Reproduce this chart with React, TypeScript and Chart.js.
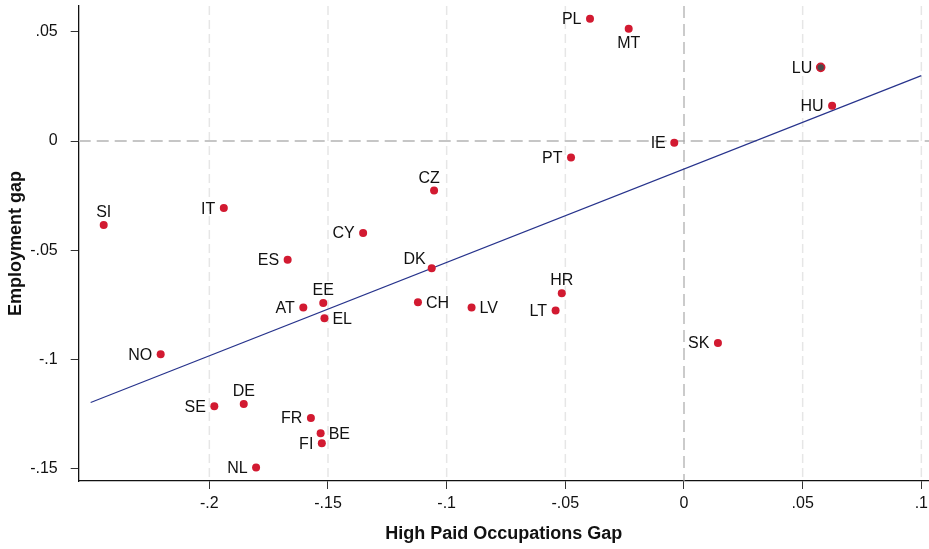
import { useEffect, useRef } from 'react';
import { Chart, registerables } from 'chart.js';

Chart.register(...registerables);

const countries = ['SI', 'IT', 'CZ', 'CY', 'ES', 'DK', 'EE', 'AT', 'EL', 'CH', 'LV', 'HR', 'LT', 'SK', 'PL', 'MT', 'LU', 'HU', 'IE', 'PT', 'NO', 'SE', 'DE', 'FR', 'NL', 'BE', 'FI'];
const highPaidGap = [-0.2445, -0.1939, -0.1053, -0.1352, -0.167, -0.1063, -0.152, -0.1604, -0.1515, -0.1121, -0.0895, -0.0515, -0.0541, 0.0143, -0.0396, -0.0233, 0.0576, 0.0624, -0.0041, -0.0476, -0.2205, -0.1979, -0.1855, -0.1572, -0.1803, -0.1531, -0.1526];
const employmentGap = [-0.0384, -0.0307, -0.0227, -0.0421, -0.0543, -0.0582, -0.0741, -0.0762, -0.0811, -0.0738, -0.0762, -0.0697, -0.0775, -0.0924, 0.0559, 0.0514, 0.0337, 0.0161, -0.0008, -0.0075, -0.0976, -0.1214, -0.1203, -0.1267, -0.1494, -0.1337, -0.1383];

const fitX = [-0.25, 0.1];
const fitY = [-0.1196, 0.0299];

const xTicks = [-0.2, -0.15, -0.1, -0.05, 0, 0.05, 0.1];
const yTicks = [-0.15, -0.1, -0.05, 0, 0.05];

const labelSide: Record<string, string> = {
  SI: 'top', CZ: 'topl', EE: 'top', HR: 'top', DE: 'top',
  MT: 'bottom', DK: 'topleft',
  EL: 'right', CH: 'right', LV: 'right', BE: 'right',
};

const FONT = '"Liberation Sans", Arial, Helvetica, sans-serif';
const RED = '#d21a31';

const fmt = (v: number) => {
  if (Math.abs(v) < 1e-9) return '0';
  return String(+v.toFixed(3)).replace(/^(-?)0\./, '$1.');
};

const zeroPad = (s: any) => {
  s.paddingTop = 0;
  s.paddingBottom = 0;
  s.paddingLeft = 0;
  s.paddingRight = 0;
};

const gridPlugin = {
  id: 'refGrid',
  beforeDatasetsDraw(chart: any) {
    const { ctx, chartArea, scales } = chart;
    const { left, right, top, bottom } = chartArea;
    const x = scales.x;
    const y = scales.y;
    ctx.save();
    ctx.beginPath();
    ctx.rect(left, top, right - left, bottom - top);
    ctx.clip();
    xTicks.forEach((v) => {
      if (v === 0) return;
      const px = x.getPixelForValue(v);
      ctx.strokeStyle = '#e6e6e6';
      ctx.lineWidth = 1.5;
      ctx.setLineDash([9, 5]);
      ctx.beginPath();
      ctx.moveTo(px, top);
      ctx.lineTo(px, bottom);
      ctx.stroke();
    });
    const py = y.getPixelForValue(0);
    ctx.strokeStyle = '#c6c6c6';
    ctx.lineWidth = 1.8;
    ctx.setLineDash([12, 6]);
    ctx.beginPath();
    ctx.moveTo(left, py);
    ctx.lineTo(right, py);
    ctx.stroke();
    const px0 = x.getPixelForValue(0);
    ctx.strokeStyle = '#a8a8a8';
    ctx.lineWidth = 1.2;
    ctx.setLineDash([12, 6]);
    ctx.beginPath();
    ctx.moveTo(px0, top);
    ctx.lineTo(px0, bottom);
    ctx.stroke();
    ctx.restore();
  },
};

const labelPlugin = {
  id: 'pointLabels',
  afterDatasetsDraw(chart: any) {
    const { ctx } = chart;
    const meta = chart.getDatasetMeta(1);
    ctx.save();
    ctx.font = `16px ${FONT}`;
    ctx.fillStyle = '#111';
    ctx.textBaseline = 'middle';
    meta.data.forEach((el: any, i: number) => {
      const name = countries[i];
      const side = labelSide[name] || 'left';
      const px = el.x;
      const py = el.y;
      if (side === 'left') {
        ctx.textAlign = 'right';
        ctx.fillText(name, px - 8.5, py + 1);
      } else if (side === 'right') {
        ctx.textAlign = 'left';
        ctx.fillText(name, px + 8, py + 1);
      } else if (side === 'top') {
        ctx.textAlign = 'center';
        ctx.fillText(name, px, py - 12.5);
      } else if (side === 'topl') {
        ctx.textAlign = 'center';
        ctx.fillText(name, px - 5, py - 12.5);
      } else if (side === 'bottom') {
        ctx.textAlign = 'center';
        ctx.fillText(name, px, py + 14.5);
      } else if (side === 'topleft') {
        ctx.textAlign = 'right';
        ctx.fillText(name, px - 6, py - 9);
      }
    });
    ctx.restore();
  },
};

export default function App() {
  const ref = useRef<HTMLCanvasElement | null>(null);
  useEffect(() => {
    document.body.style.margin = '0';
    const canvas = ref.current;
    if (!canvas) return;
    const points = countries.map((_, i) => ({ x: highPaidGap[i], y: employmentGap[i] }));
    const fit = fitX.map((v, i) => ({ x: v, y: fitY[i] }));
    const chart = new Chart(canvas, {
      type: 'scatter',
      data: {
        datasets: [
          {
            type: 'line',
            data: fit,
            borderColor: '#27338c',
            borderWidth: 1.2,
            pointRadius: 0,
            fill: false,
            order: 2,
          } as any,
          {
            data: points,
            pointRadius: 4,
            pointHoverRadius: 4,
            pointBackgroundColor: countries.map((c) => (c === 'LU' ? '#4a4a4a' : RED)),
            pointBorderColor: RED,
            pointBorderWidth: countries.map((c) => (c === 'LU' ? 1.6 : 0)),
            order: 1,
          },
        ],
      },
      options: {
        animation: false,
        responsive: false,
        devicePixelRatio: 1,
        events: [],
        layout: { autoPadding: false, padding: { top: 6, right: 0, bottom: 0, left: 0 } },
        plugins: { legend: { display: false }, tooltip: { enabled: false } },
        scales: {
          x: {
            type: 'linear',
            min: -0.25504,
            max: 0.10323,
            afterBuildTicks: (s: any) => {
              s.ticks = xTicks.map((value) => ({ value }));
            },
            afterFit: (s: any) => {
              s.height = 68;
              zeroPad(s);
            },
            ticks: {
              callback: (v: any) => fmt(Number(v)),
              font: { family: FONT, size: 16 },
              color: '#111',
              padding: 5,
              maxRotation: 0,
              autoSkip: false,
            },
            grid: { drawOnChartArea: false, drawTicks: true, tickLength: 8, color: '#333', lineWidth: 1 },
            border: { display: true, color: '#111', width: 1.3 },
            title: {
              display: true,
              text: 'High Paid Occupations Gap',
              font: { family: FONT, size: 18, weight: 'bold' },
              color: '#111',
              padding: { top: 0, bottom: 4 },
            },
          },
          y: {
            type: 'linear',
            min: -0.15554,
            max: 0.06176,
            afterBuildTicks: (s: any) => {
              s.ticks = yTicks.map((value) => ({ value }));
            },
            afterFit: (s: any) => {
              s.width = 78.7;
              zeroPad(s);
            },
            ticks: {
              callback: (v: any) => fmt(Number(v)),
              font: { family: FONT, size: 16 },
              color: '#111',
              padding: 13,
              autoSkip: false,
            },
            grid: { drawOnChartArea: false, drawTicks: true, tickLength: 8, color: '#333', lineWidth: 1 },
            border: { display: true, color: '#111', width: 1.3 },
            title: {
              display: true,
              text: 'Employment gap',
              font: { family: FONT, size: 18, weight: 'bold' },
              color: '#111',
              padding: { top: 5, bottom: 0 },
            },
          },
        },
      },
      plugins: [gridPlugin, labelPlugin],
    });
    return () => chart.destroy();
  }, []);
  return <canvas ref={ref} width={929} height={549} style={{ display: 'block' }} />;
}
